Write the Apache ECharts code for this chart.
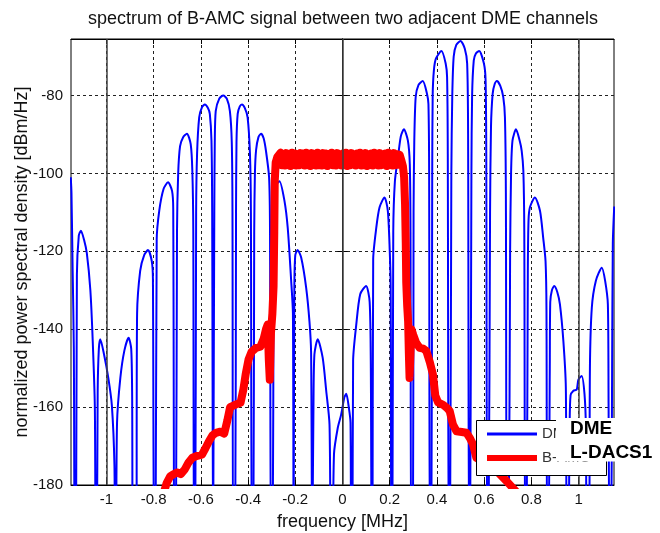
<!DOCTYPE html>
<html>
<head>
<meta charset="utf-8">
<title>spectrum of B-AMC signal</title>
<script src="https://cdn.jsdelivr.net/npm/echarts@6.0.0/dist/echarts.min.js"></script>
<style>
  html, body { margin: 0; padding: 0; background: #fff; }
  #chart { width: 660px; height: 533px; }
</style>
</head>
<body>
<div id="chart"></div>
<script>
// frequency [MHz] / psd [dBm/Hz] pairs
var dmePoints = [
  [-1.151,-101],[-1.148,-105],[-1.143,-125],[-1.138,-145],[-1.134,-200],
  [-1.129,-200],[-1.125,-126],[-1.117,-116],[-1.108,-114.7],[-1.095,-117],[-1.083,-120.5],[-1.068,-130],[-1.058,-143],[-1.049,-160],[-1.045,-200],
  [-1.041,-200],[-1.037,-156],[-1.032,-145],[-1.026,-142.6],[-1.010,-146.5],[-0.992,-152.5],[-0.977,-159.5],[-0.966,-175],[-0.963,-200],
  [-0.960,-200],[-0.955,-164],[-0.941,-152.5],[-0.924,-145.5],[-0.906,-142.2],[-0.895,-145],[-0.891,-157],[-0.887,-200],
  [-0.874,-200],[-0.870,-136],[-0.857,-125],[-0.840,-121],[-0.824,-119.7],[-0.808,-122.5],[-0.803,-127],[-0.798,-200],
  [-0.792,-200],[-0.787,-117],[-0.776,-109.5],[-0.758,-104],[-0.739,-102.3],[-0.722,-104.5],[-0.717,-109],[-0.712,-200],
  [-0.706,-200],[-0.701,-115],[-0.696,-100],[-0.688,-93],[-0.675,-90.7],[-0.659,-89.8],[-0.643,-92.5],[-0.636,-99.5],[-0.632,-115],[-0.629,-200],
  [-0.624,-200],[-0.620,-110],[-0.616,-95],[-0.607,-85.6],[-0.595,-83],[-0.583,-82.3],[-0.570,-83.2],[-0.562,-84.7],[-0.555,-91.6],[-0.552,-110],[-0.548,-200],
  [-0.546,-200],[-0.543,-110],[-0.541,-92],[-0.537,-84],[-0.522,-80.8],[-0.505,-80],[-0.490,-80.8],[-0.477,-84],[-0.469,-92],[-0.466,-110],[-0.463,-200],
  [-0.455,-200],[-0.451,-110],[-0.449,-92],[-0.444,-84.7],[-0.435,-82.8],[-0.426,-82.3],[-0.414,-83.2],[-0.402,-85.6],[-0.392,-95],[-0.388,-110],[-0.384,-200],
  [-0.378,-200],[-0.374,-115],[-0.371,-100],[-0.366,-94],[-0.356,-90.7],[-0.345,-89.8],[-0.334,-91],[-0.324,-94.3],[-0.311,-101],[-0.307,-115],[-0.303,-200],
  [-0.296,-200],[-0.292,-125],[-0.289,-108],[-0.280,-103],[-0.267,-102],[-0.246,-107],[-0.232,-114],[-0.218,-127],[-0.210,-136],[-0.207,-200],
  [-0.206,-200],[-0.204,-130],[-0.200,-121],[-0.190,-119.7],[-0.175,-121.6],[-0.154,-129.3],[-0.140,-138],[-0.133,-146],[-0.128,-200],
  [-0.126,-200],[-0.123,-160],[-0.119,-146.5],[-0.105,-142.6],[-0.084,-147.3],[-0.069,-155.8],[-0.055,-164.5],[-0.049,-200],
  [-0.043,-200],[-0.036,-172],[-0.020,-165.3],[-0.006,-162],[0.008,-157.5],[0.016,-156.6],[0.027,-160.2],[0.034,-164],[0.037,-200],
  [0.042,-200],[0.045,-148],[0.058,-139],[0.075,-131],[0.100,-128.9],[0.115,-133],[0.120,-150],[0.124,-200],
  [0.127,-200],[0.130,-122],[0.143,-114],[0.157,-108.7],[0.178,-106.2],[0.192,-109.6],[0.200,-119.7],[0.204,-129],[0.207,-200],
  [0.211,-200],[0.215,-115],[0.222,-102],[0.235,-95.9],[0.247,-90.5],[0.260,-88.7],[0.277,-91.6],[0.285,-97.6],[0.288,-115],[0.291,-200],
  [0.298,-200],[0.301,-110],[0.304,-92],[0.310,-80.4],[0.322,-77.3],[0.340,-76.3],[0.358,-79.6],[0.364,-82.2],[0.367,-100],[0.370,-200],
  [0.376,-200],[0.380,-100],[0.382,-80],[0.387,-73.6],[0.396,-70.5],[0.419,-68.6],[0.437,-71.8],[0.443,-75.3],[0.446,-95],[0.450,-200],
  [0.455,-200],[0.461,-100],[0.465,-80],[0.471,-70],[0.482,-67],[0.500,-66],[0.518,-68],[0.528,-71.8],[0.532,-90],[0.536,-200],
  [0.540,-200],[0.546,-100],[0.549,-80],[0.556,-71],[0.565,-69.2],[0.579,-68.6],[0.599,-71.8],[0.606,-76],[0.609,-95],[0.613,-200],
  [0.618,-200],[0.625,-110],[0.629,-88],[0.636,-79.6],[0.645,-77],[0.654,-76.3],[0.668,-77.5],[0.681,-80.4],[0.688,-85.6],[0.692,-105],[0.696,-200],
  [0.703,-200],[0.710,-120],[0.714,-100],[0.720,-91.6],[0.735,-88.7],[0.750,-91.5],[0.759,-94.2],[0.766,-99.3],[0.770,-115],[0.774,-200],
  [0.779,-200],[0.785,-125],[0.788,-112],[0.794,-108.7],[0.815,-106.2],[0.8365,-109.6],[0.850,-116.5],[0.860,-122.5],[0.864,-135],[0.867,-200],
  [0.872,-200],[0.878,-150],[0.880,-133],[0.887,-130],[0.897,-128.9],[0.910,-130.5],[0.921,-133.6],[0.9355,-143],[0.946,-155],[0.950,-200],
  [0.956,-200],[0.962,-165],[0.966,-157],[0.978,-155.8],[0.992,-155.5],[0.999,-153],[1.013,-152],[1.025,-156.6],[1.031,-165.4],[1.035,-200],
  [1.044,-200],[1.048,-150],[1.056,-134.5],[1.073,-127.6],[1.0985,-124.2],[1.1125,-127.6],[1.124,-133.6],[1.127,-159],[1.1315,-200],
  [1.137,-200],[1.142,-150],[1.145,-118],[1.151,-108.5]
];

var bamcPoints = [
  [-0.757,-182],[-0.745,-179.5],[-0.730,-177.8],[-0.715,-177.2],[-0.700,-176.8],[-0.685,-177.2],[-0.668,-176],[-0.652,-174.2],
  [-0.636,-173],[-0.615,-172.5],[-0.595,-172.2],[-0.580,-170.5],[-0.565,-168.7],[-0.550,-167.2],[-0.536,-166.6],[-0.518,-166.3],
  [-0.501,-166.8],[-0.488,-163.5],[-0.476,-160],[-0.455,-159.4],[-0.432,-158.9],[-0.420,-155.5],[-0.410,-151.5],[-0.398,-147.8],
  [-0.385,-145.8],[-0.366,-144.8],[-0.348,-144.5],[-0.334,-142.5],[-0.324,-140],[-0.317,-138.8],[-0.312,-148],[-0.308,-153],
  [-0.303,-141],[-0.297,-136],[-0.292,-129],[-0.289,-115],[-0.287,-102],[-0.283,-97.2],[-0.276,-95.8],[-0.268,-96.3],
  // noisy flat top
  [-0.262,-94.7],[-0.256,-97.9],[-0.250,-95.0],[-0.244,-98.0],[-0.238,-94.8],[-0.232,-97.7],[-0.226,-95.1],[-0.220,-98.1],
  [-0.214,-94.7],[-0.208,-97.8],[-0.202,-94.9],[-0.196,-98.0],[-0.190,-95.2],[-0.184,-97.9],[-0.178,-94.8],[-0.172,-97.6],
  [-0.166,-94.9],[-0.160,-98.0],[-0.154,-94.7],[-0.148,-97.8],[-0.142,-95.0],[-0.136,-98.1],[-0.130,-94.8],[-0.124,-97.7],
  [-0.118,-95.1],[-0.112,-98.0],[-0.106,-94.7],[-0.100,-97.9],[-0.094,-95.0],[-0.088,-98.0],[-0.082,-94.8],[-0.076,-97.6],
  [-0.070,-94.9],[-0.064,-98.1],[-0.058,-95.1],[-0.052,-97.8],[-0.046,-94.7],[-0.040,-97.9],[-0.034,-95.0],[-0.028,-98.0],
  [-0.022,-94.8],[-0.016,-97.7],[-0.010,-95.2],[-0.004,-98.0],[0.002,-94.9],[0.008,-97.8],[0.014,-94.7],[0.020,-98.1],
  [0.026,-95.0],[0.032,-97.9],[0.038,-94.8],[0.044,-97.7],[0.050,-95.1],[0.056,-98.0],[0.062,-94.9],[0.068,-97.8],
  [0.074,-94.7],[0.080,-98.0],[0.086,-95.0],[0.092,-97.9],[0.098,-94.8],[0.104,-98.1],[0.110,-95.2],[0.116,-97.7],
  [0.122,-94.9],[0.128,-98.0],[0.134,-94.7],[0.140,-97.8],[0.146,-95.0],[0.152,-98.0],[0.158,-94.8],[0.164,-97.9],
  [0.170,-95.1],[0.176,-97.7],[0.182,-94.9],[0.188,-98.1],[0.194,-94.7],[0.200,-97.8],[0.206,-95.0],[0.212,-98.0],
  [0.218,-94.8],[0.224,-97.9],[0.230,-95.1],[0.236,-97.8],[0.242,-95.2],
  [0.250,-96.8],[0.256,-98.2],[0.261,-101],[0.265,-108],[0.268,-118],[0.270,-128],[0.274,-134],[0.278,-138],
  [0.281,-146],[0.284,-152.5],[0.288,-146],[0.292,-140],[0.300,-141.5],[0.312,-143.5],[0.327,-144.8],[0.342,-145],
  [0.355,-145.6],[0.370,-148.5],[0.383,-151.6],[0.393,-157],[0.405,-158.8],[0.426,-159.4],[0.442,-160.2],[0.454,-161],
  [0.468,-164.5],[0.483,-166.2],[0.505,-166.4],[0.525,-166.6],[0.540,-168],[0.553,-169.6],[0.567,-173],[0.600,-174.2],
  [0.650,-176.2],[0.695,-179],[0.740,-182]
];

var freqTicks = [-1, -0.8, -0.6, -0.4, -0.2, 0, 0.2, 0.4, 0.6, 0.8, 1];
var psdTicks = [-180, -160, -140, -120, -100, -80];
var channelLines = [-1, 0, 1];
var legendNames = ['DME', 'B-AMC'];
var overlayNames = ['DME', 'L-DACS1'];

var FONT = '"Liberation Sans", Arial, sans-serif';
var chart = echarts.init(document.getElementById('chart'));

var gridDash = { color: '#222', width: 1, type: [3, 3] };

var option = {
  animation: false,
  backgroundColor: '#fff',
  title: {
    text: 'spectrum of B-AMC signal between two adjacent DME channels',
    left: 343, top: 10, padding: 0, textAlign: 'center',
    textStyle: { fontFamily: FONT, fontSize: 18, fontWeight: 'normal', color: '#111' }
  },
  grid: { left: 71, right: 46, top: 39, bottom: 48, show: true, borderColor: '#000', borderWidth: 1, outerBoundsMode: 'none' },
  xAxis: [{
    type: 'value', min: -1.15, max: 1.15,
    name: 'frequency [MHz]', nameLocation: 'middle', nameGap: 28, nameMoveOverlap: false,
    nameTextStyle: { fontFamily: FONT, fontSize: 18, color: '#111' },
    axisLine: { lineStyle: { color: '#000' } },
    axisTick: { inside: true, length: 5, customValues: freqTicks, lineStyle: { color: '#000' } },
    axisLabel: { customValues: freqTicks, margin: 7, fontFamily: FONT, fontSize: 15, color: '#111' },
    splitLine: { show: true, lineStyle: gridDash }
  }, {
    type: 'value', min: -1.15, max: 1.15, position: 'top',
    axisLine: { lineStyle: { color: '#000' } },
    axisTick: { inside: true, length: 5, customValues: freqTicks, lineStyle: { color: '#000' } },
    axisLabel: { show: false },
    splitLine: { show: false }
  }],
  yAxis: [{
    type: 'value', min: -180, max: -65.5,
    name: 'normalized power spectral density [dBm/Hz]', nameLocation: 'middle', nameGap: 40, nameMoveOverlap: false,
    nameTextStyle: { fontFamily: FONT, fontSize: 18, color: '#111' },
    axisLine: { show: true, lineStyle: { color: '#000' } },
    axisTick: { show: true, inside: true, length: 5, customValues: psdTicks, lineStyle: { color: '#000' } },
    axisLabel: { customValues: psdTicks, margin: 8, fontFamily: FONT, fontSize: 15, color: '#111' },
    splitLine: { show: true, lineStyle: gridDash }
  }, {
    type: 'value', min: -180, max: -65.5, position: 'right',
    axisLine: { show: true, lineStyle: { color: '#000' } },
    axisTick: { show: true, inside: true, length: 5, customValues: psdTicks, lineStyle: { color: '#000' } },
    axisLabel: { show: false },
    splitLine: { show: false }
  }],
  series: [{
    name: legendNames[0],
    type: 'line',
    data: dmePoints,
    showSymbol: false,
    symbol: 'none',
    smooth: 0.25,
    lineStyle: { color: '#0000ff', width: 2, join: 'round' },
    z: 3,
    markLine: {
      silent: true, symbol: 'none', label: { show: false },
      lineStyle: { color: '#404040', width: 1.5, type: 'solid' },
      data: channelLines.map(function (v) { return { xAxis: v }; })
    }
  }, {
    name: legendNames[1],
    type: 'line',
    data: bamcPoints,
    showSymbol: false,
    symbol: 'none',
    lineStyle: { color: '#ff0000', width: 8, join: 'round', cap: 'round' },
    z: 4
  }],
  graphic: [
    // legend box
    { type: 'rect', z: 100, shape: { x: 476.5, y: 420.5, width: 130, height: 55 }, style: { fill: '#fff', stroke: '#000', lineWidth: 1 } },
    { type: 'line', z: 101, shape: { x1: 487, y1: 434, x2: 537, y2: 434 }, style: { stroke: '#0000ff', lineWidth: 3 } },
    { type: 'line', z: 101, shape: { x1: 487, y1: 458, x2: 537, y2: 458 }, style: { stroke: '#ff0000', lineWidth: 6 } },
    { type: 'text', z: 101, x: 542, y: 434, style: { text: legendNames[0], fontFamily: FONT, fontSize: 15, fill: '#333', verticalAlign: 'middle', textVerticalAlign: 'middle' } },
    { type: 'text', z: 101, x: 542, y: 458, style: { text: legendNames[1], fontFamily: FONT, fontSize: 15, fill: '#333', verticalAlign: 'middle', textVerticalAlign: 'middle' } },
    // pasted-over labels
    { type: 'rect', z: 110, shape: { x: 556, y: 418, width: 104, height: 43.5 }, style: { fill: '#fff' } },
    { type: 'text', z: 111, x: 570, y: 429, style: { text: overlayNames[0], fontFamily: FONT, fontSize: 19, fontWeight: 'bold', fill: '#000', verticalAlign: 'middle', textVerticalAlign: 'middle' } },
    { type: 'text', z: 111, x: 570, y: 453, style: { text: overlayNames[1], fontFamily: FONT, fontSize: 19, fontWeight: 'bold', fill: '#000', verticalAlign: 'middle', textVerticalAlign: 'middle' } }
  ]
};

chart.setOption(option);
</script>
</body>
</html>
